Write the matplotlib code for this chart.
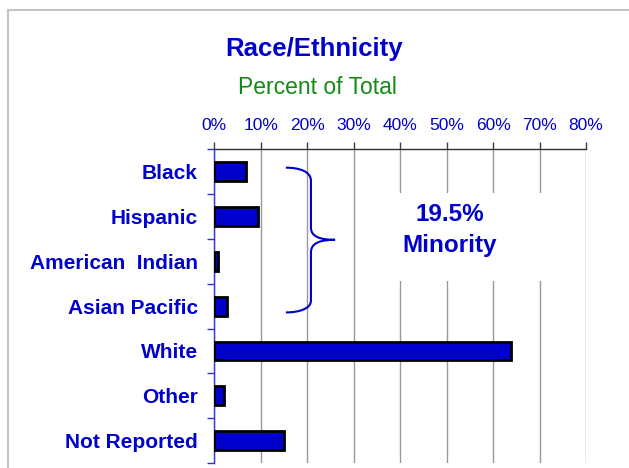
# Race/Ethnicity - horizontal bar chart, percent of total
import matplotlib.pyplot as plt
from matplotlib.patches import Rectangle, PathPatch
from matplotlib.path import Path
from matplotlib.lines import Line2D

plt.rcParams['font.family'] = ['Liberation Sans', 'DejaVu Sans']

categories = ['Black', 'Hispanic', 'American  Indian', 'Asian Pacific',
              'White', 'Other', 'Not Reported']
percents = [6.9, 9.4, 0.8, 2.8, 63.8, 2.1, 15.0]
x_ticks = [0, 10, 20, 30, 40, 50, 60, 70, 80]
x_labels = [f'{t}%' for t in x_ticks]
minority_note = '19.5%\nMinority'

BLUE = '#0000CC'
GREEN = '#138A13'

fig = plt.figure(figsize=(6.29, 4.68), dpi=100)
ax = fig.add_axes([0.3407, 0.0107, 0.5909, 0.6703])

ypos = list(range(len(categories)))
ax.barh(ypos, percents, height=0.42, color=BLUE, edgecolor='black',
        linewidth=2, zorder=3)

ax.set_xlim(0, 80)
ax.set_ylim(len(categories) - 0.5, -0.5)
ax.set_axisbelow(True)

# x axis on top, grey grid
ax.xaxis.tick_top()
ax.set_xticks(x_ticks)
ax.set_xticklabels(x_labels, color=BLUE, fontsize=12.5)
ax.tick_params(axis='x', direction='out', length=5, width=1,
               color='#404040', pad=7)
ax.grid(axis='x', color='#999999', linewidth=1)

# y ticks at the row boundaries, labels at the row centres
ax.set_yticks([i - 0.5 for i in range(len(categories) + 1)])
ax.set_yticklabels([])
ax.tick_params(axis='y', which='major', direction='out', length=5,
               width=1, color='#3030E0')
ax.set_yticks(ypos, minor=True)
ax.set_yticklabels(categories, minor=True, color=BLUE, fontsize=15,
                   fontweight='bold')
ax.tick_params(axis='y', which='minor', length=0, pad=12)

for side in ['right', 'bottom']:
    ax.spines[side].set_visible(False)
ax.spines['top'].set_color('#303030')
ax.spines['top'].set_linewidth(1)
ax.spines['left'].set_color('#3030E0')
ax.spines['left'].set_linewidth(1)

# brace over the four minority rows
verts = [(15.4, -0.09),
         (18.4, -0.09), (20.8, 0.0), (20.8, 0.2),
         (20.8, 1.25),
         (20.8, 1.45), (22.8, 1.52), (26.0, 1.52),
         (22.8, 1.52), (20.8, 1.59), (20.8, 1.8),
         (20.8, 2.88),
         (20.8, 3.05), (18.4, 3.14), (15.4, 3.14)]
codes = [Path.MOVETO,
         Path.CURVE4, Path.CURVE4, Path.CURVE4,
         Path.LINETO,
         Path.CURVE4, Path.CURVE4, Path.CURVE4,
         Path.CURVE4, Path.CURVE4, Path.CURVE4,
         Path.LINETO,
         Path.CURVE4, Path.CURVE4, Path.CURVE4]
ax.add_patch(PathPatch(Path(verts, codes), facecolor='none',
                       edgecolor=BLUE, linewidth=1.5, zorder=4))

# white text box that breaks the grid lines
ax.add_patch(Rectangle((35, 0.47), 40, 1.98, facecolor='white',
                       edgecolor='none', zorder=1))
ax.text(50.6, 1.3, minority_note, color=BLUE, fontsize=17.5,
        fontweight='bold', ha='center', va='center', linespacing=1.45,
        zorder=5)

fig.text(314.5 / 629, 1 - 56 / 468, 'Race/Ethnicity', color=BLUE,
         fontsize=18.5, fontweight='bold', ha='center', va='baseline')
fig.text(317 / 629, 1 - 94 / 468, 'Percent of Total', color=GREEN,
         fontsize=16.5, ha='center', va='baseline')

# light grey frame (left and top edges visible)
fx = 8.3 / 629
fy = 1 - 10 / 468
fig.add_artist(Line2D([fx, fx], [0, fy], transform=fig.transFigure,
                      color='#c4c4c4', linewidth=1.5))
fig.add_artist(Line2D([fx, 1], [fy, fy], transform=fig.transFigure,
                      color='#c4c4c4', linewidth=1.5))

fig.savefig('out.png', dpi=100)
